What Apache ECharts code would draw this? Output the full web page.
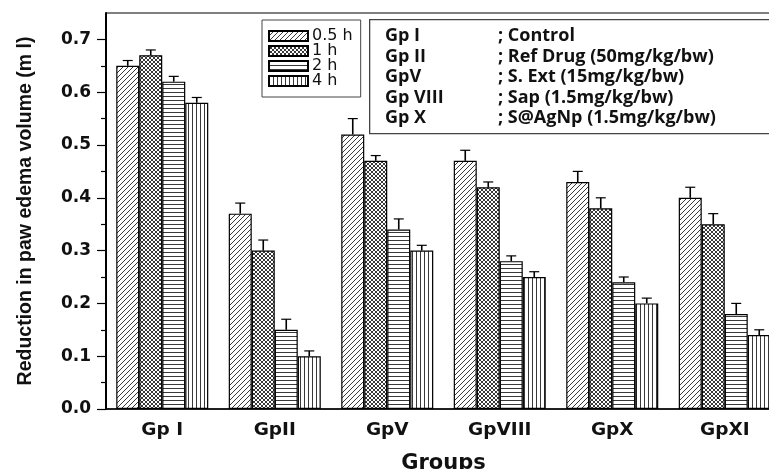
<!DOCTYPE html>
<html>
<head>
<meta charset="utf-8">
<script src="https://cdn.jsdelivr.net/npm/echarts@6/dist/echarts.min.js"></script>
<style>
  html, body { margin: 0; padding: 0; background: #fff; }
  #chart { width: 769px; height: 469px; }
</style>
</head>
<body>
<div id="chart"></div>
<script>
// Groups on the x axis
const groups = ['Gp I', 'GpII', 'GpV', 'GpVIII', 'GpX', 'GpXI'];
// Time points (one bar series each)
const timeLabels = ['0.5 h', '1 h', '2 h', '4 h'];
// Mean reduction in paw edema volume (ml)
const mean05h = [0.65, 0.37, 0.52, 0.47, 0.43, 0.40];
const mean1h  = [0.67, 0.30, 0.47, 0.42, 0.38, 0.35];
const mean2h  = [0.62, 0.15, 0.34, 0.28, 0.24, 0.18];
const mean4h  = [0.58, 0.10, 0.30, 0.25, 0.20, 0.14];
// Upper error (SEM)
const err05h = [0.01, 0.02, 0.03, 0.02, 0.02, 0.02];
const err1h  = [0.01, 0.02, 0.01, 0.01, 0.02, 0.02];
const err2h  = [0.01, 0.02, 0.02, 0.01, 0.01, 0.02];
const err4h  = [0.01, 0.01, 0.01, 0.01, 0.01, 0.01];
// Y axis tick values
const yMajorTicks = [0, 0.1, 0.2, 0.3, 0.4, 0.5, 0.6, 0.7];
const yMinorTicks = [0.05, 0.15, 0.25, 0.35, 0.45, 0.55, 0.65];
// Group key text
const keyGroups = ['Gp I', 'Gp II', 'GpV', 'Gp VIII', 'Gp X'];
const keyDesc = ['; Control', '; Ref Drug (50mg/kg/bw)', '; S. Ext (15mg/kg/bw)', '; Sap (1.5mg/kg/bw)', '; S@AgNp (1.5mg/kg/bw)'];

const means = [mean05h, mean1h, mean2h, mean4h];
const errs = [err05h, err1h, err2h, err4h];

// Hatch fills drawn on small tiles
function makePattern(kind) {
  const c = document.createElement('canvas');
  const s = kind === 'diag' ? 10 : (kind === 'cross' ? 8 : 4);
  c.width = s; c.height = s;
  const g = c.getContext('2d');
  g.fillStyle = '#fff';
  g.fillRect(0, 0, s, s);
  g.strokeStyle = '#222';
  g.lineWidth = 0.9;
  g.beginPath();
  if (kind === 'diag') {
    for (let k = -2 * s; k <= 2 * s; k += 5) { g.moveTo(k, s); g.lineTo(k + s, 0); }
  } else if (kind === 'cross') {
    for (let k = -2 * s; k <= 2 * s; k += 4) { g.moveTo(k, s); g.lineTo(k + s, 0); g.moveTo(k, 0); g.lineTo(k + s, s); }
  } else if (kind === 'horiz') {
    g.moveTo(0, 0.5); g.lineTo(s, 0.5);
  } else {
    g.moveTo(0.5, 0); g.lineTo(0.5, s);
  }
  g.stroke();
  return { image: c, repeat: 'repeat' };
}
const fills = [makePattern('diag'), makePattern('cross'), makePattern('horiz'), makePattern('vert')];

const BAR_W = 23;

const barSeries = timeLabels.map((name, k) => ({
  name: name,
  type: 'bar',
  barWidth: BAR_W,
  barGap: '0%',
  data: means[k],
  itemStyle: { color: fills[k], borderColor: '#000', borderWidth: 1.2 },
  emphasis: { disabled: true },
  animation: false
}));

const errSeries = timeLabels.map((name, k) => ({
  name: 'err ' + name,
  type: 'custom',
  z: 3,
  animation: false,
  data: groups.map((g, i) => [i, means[k][i], errs[k][i]]),
  encode: { x: 0, y: 1 },
  renderItem: function (params, api) {
    const base = api.coord([api.value(0), api.value(1)]);
    const top = api.coord([api.value(0), api.value(1) + api.value(2)]);
    const cx = base[0] + (k - 1.5) * BAR_W;
    return {
      type: 'group',
      children: [
        { type: 'line', shape: { x1: cx, y1: base[1], x2: cx, y2: top[1] }, style: { stroke: '#000', lineWidth: 1.6 } },
        { type: 'line', shape: { x1: cx - 5, y1: top[1], x2: cx + 5, y2: top[1] }, style: { stroke: '#000', lineWidth: 1.2 } }
      ]
    };
  }
}));

const boldTick = { fontFamily: 'DejaVu Sans', fontWeight: 'bold', color: '#111' };

const option = {
  backgroundColor: '#fff',
  animation: false,
  grid: {
    left: 106, top: 13, right: -12, bottom: 60,
    outerBoundsMode: 'none', containLabel: false,
    show: true, borderColor: '#000', borderWidth: 1, backgroundColor: 'transparent'
  },
  legend: {
    data: timeLabels,
    orient: 'vertical',
    left: 262, top: 20,
    icon: 'rect',
    itemWidth: 39, itemHeight: 10, itemGap: -1,
    padding: [8, 8, 8, 6],
    borderColor: '#444', borderWidth: 1,
    textStyle: { fontFamily: 'DejaVu Sans', fontSize: 16, color: '#111', padding: [0, 0, 0, -1] },
    selectedMode: false
  },
  xAxis: [
    {
      type: 'category', data: groups, position: 'bottom',
      axisLine: { lineStyle: { color: '#000', width: 1.5 } },
      axisTick: { length: 5, lineStyle: { color: '#000', width: 1.2 } },
      axisLabel: Object.assign({ fontSize: 18.5, margin: 12 }, boldTick),
      name: 'Groups', nameLocation: 'middle', nameGap: 44,
      nameTextStyle: { fontFamily: 'DejaVu Sans', fontWeight: 'bold', fontSize: 21, color: '#111' },
      splitLine: { show: false }
    },
    {
      type: 'category', data: groups, position: 'bottom',
      axisLine: { show: false },
      axisTick: { alignWithLabel: true, length: 7, lineStyle: { color: '#000', width: 1.2 } },
      axisLabel: { show: false },
      splitLine: { show: false }
    }
  ],
  yAxis: [
    {
      type: 'value', min: 0, max: 0.75, position: 'left',
      axisLine: { show: true, lineStyle: { color: '#000', width: 2 } },
      axisTick: { show: true, length: 9, customValues: yMajorTicks, lineStyle: { color: '#000', width: 1.2 } },
      axisLabel: Object.assign({ fontSize: 17, margin: 15, customValues: yMajorTicks, formatter: v => v.toFixed(1) }, boldTick),
      splitLine: { show: false },
      name: 'Reduction in paw edema volume (m l)', nameLocation: 'middle', nameRotate: 90, nameGap: 70,
      nameTextStyle: { fontFamily: 'Liberation Sans', fontWeight: 'bold', fontSize: 19.5, color: '#111' }
    },
    {
      type: 'value', min: 0, max: 0.75, position: 'left',
      axisLine: { show: false },
      axisTick: { show: true, length: 5, customValues: yMinorTicks, lineStyle: { color: '#000', width: 1.2 } },
      axisLabel: { show: false },
      splitLine: { show: false }
    }
  ],
  graphic: [
    {
      type: 'rect', left: 369, top: 19, z: 10,
      shape: { width: 420, height: 114 },
      style: { fill: '#fff', stroke: '#444', lineWidth: 1.3 }
    }
  ].concat(keyGroups.map((t, i) => ({
    type: 'text', x: 385, y: 36 + 20.5 * i, z: 11,
    style: { text: t, fontFamily: 'Open Sans', fontWeight: 'bold', fontSize: 18, fill: '#111', verticalAlign: 'middle' }
  }))).concat(keyDesc.map((t, i) => ({
    type: 'text', x: 498, y: 36 + 20.5 * i, z: 11,
    style: { text: t, fontFamily: 'Open Sans', fontWeight: 'bold', fontSize: 18, fill: '#111', verticalAlign: 'middle' }
  }))),
  series: barSeries.concat(errSeries)
};

const chart = echarts.init(document.getElementById('chart'), null, { renderer: 'canvas' });
chart.setOption(option);
</script>
</body>
</html>
